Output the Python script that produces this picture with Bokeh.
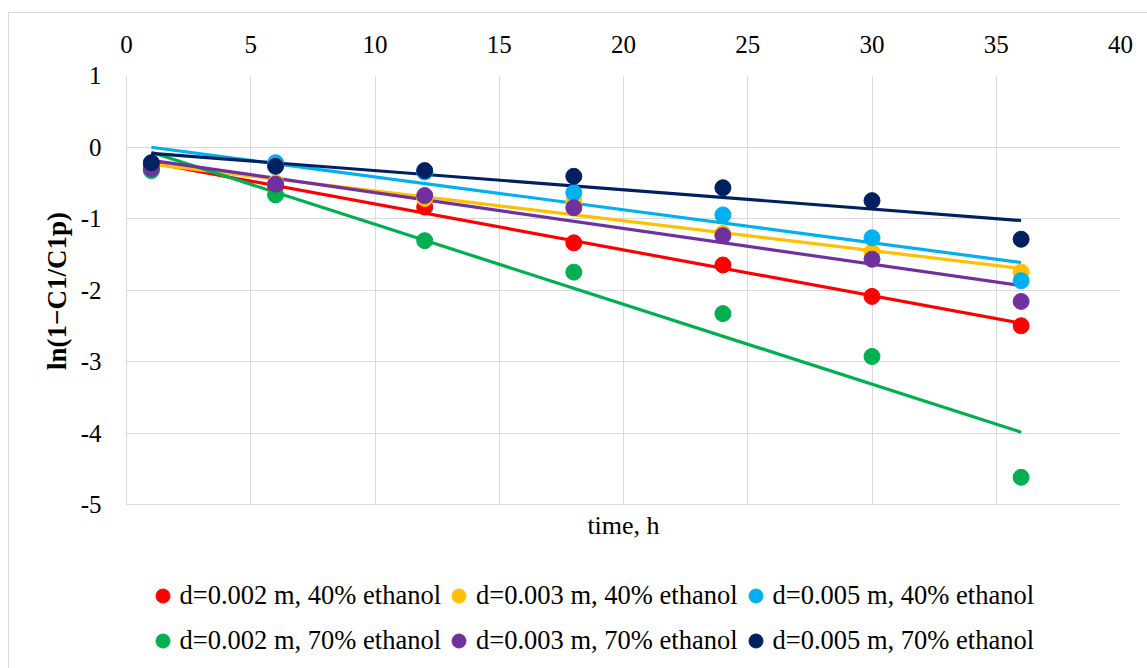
import numpy as np
from bokeh.plotting import figure
from bokeh.models import (Range1d, FixedTicker, Legend, LegendItem, Label,
                          BoxAnnotation, ColumnDataSource)
from bokeh.embed import file_html
from bokeh.resources import INLINE

# ---- data ----
time_h = [1, 6, 12, 18, 24, 30, 36]
d002_eth40 = [-0.27, -0.55, -0.84, -1.34, -1.65, -2.09, -2.50]
d003_eth40 = [-0.27, -0.50, -0.72, -0.76, -1.21, -1.47, -1.75]
d005_eth40 = [-0.25, -0.22, -0.35, -0.64, -0.95, -1.27, -1.87]
d002_eth70 = [-0.33, -0.67, -1.31, -1.75, -2.33, -2.93, -4.62]
d003_eth70 = [-0.30, -0.52, -0.68, -0.85, -1.24, -1.57, -2.16]
d005_eth70 = [-0.22, -0.27, -0.33, -0.41, -0.57, -0.75, -1.29]

series_names = ["d=0.002 m, 40% ethanol", "d=0.003 m, 40% ethanol", "d=0.005 m, 40% ethanol",
                "d=0.002 m, 70% ethanol", "d=0.003 m, 70% ethanol", "d=0.005 m, 70% ethanol"]
series_values = [d002_eth40, d003_eth40, d005_eth40, d002_eth70, d003_eth70, d005_eth70]
series_colors = ["#FF0000", "#FFC000", "#00B0F0", "#00B050", "#7030A0", "#002060"]

x_ticks = [0, 5, 10, 15, 20, 25, 30, 35, 40]
x_tick_labels = ["0", "5", "10", "15", "20", "25", "30", "35", "40"]
y_ticks = [-5, -4, -3, -2, -1, 0, 1]
y_tick_labels = ["-5", "-4", "-3", "-2", "-1", "0", "1"]

x_title = "time, h"
y_title = "ln(1\u2212C1/C1p)"

FONT = "Liberation Serif"
GRID = "#d9d9d9"

# ---- layout (pixels) ----
W, H = 1147, 668
PLOT_TOP, PLOT_BOTTOM = 75, 504          # pixel rows of y=1 and y=-5
Y_MIN, Y_MAX = min(y_ticks), max(y_ticks)
px_per_unit = (PLOT_BOTTOM - PLOT_TOP) / (Y_MAX - Y_MIN)
# the frame is extended down to the bottom of the page so that the legend and
# the x title (which sit under the plot area) are drawn inside it
y_lo = Y_MIN - (H - PLOT_BOTTOM) / px_per_unit

p = figure(width=W, height=H, output_backend="svg", toolbar_location=None,
           x_range=Range1d(min(x_ticks), max(x_ticks)), y_range=Range1d(y_lo, Y_MAX),
           x_axis_location="above",
           min_border_left=126, min_border_right=27, min_border_top=PLOT_TOP, min_border_bottom=0)
# outer chart-area border (top and left edges, offset like the reference)
p.styles = {"background-color": "white",
            "box-shadow": "inset 8px 12px 0 0 white, inset 9px 13px 0 0 #d9d9d9"}
p.background_fill_color = "white"
p.border_fill_alpha = 0
p.outline_line_color = None

# top x axis
xa = p.xaxis[0]
xa.ticker = FixedTicker(ticks=x_ticks)
xa.major_label_overrides = {t: s for t, s in zip(x_ticks, x_tick_labels)}
xa.major_tick_line_color = None
xa.minor_tick_line_color = None
xa.axis_line_color = None
xa.major_label_standoff = 17
xa.major_label_text_font = FONT
xa.major_label_text_font_size = "25px"
xa.major_label_text_color = "#000000"

# y axis; its title is centred on the whole (extended) frame, so leading
# no-break spaces move the visible words up to the middle of the plot area
shift_spaces = "\u00a0" * 24
ya = p.yaxis[0]
ya.ticker = FixedTicker(ticks=y_ticks)
ya.bounds = (Y_MIN, Y_MAX)
ya.major_label_overrides = {t: s for t, s in zip(y_ticks, y_tick_labels)}
ya.major_tick_line_color = None
ya.minor_tick_line_color = None
ya.axis_line_color = GRID
ya.major_label_standoff = 19
ya.major_label_text_font = FONT
ya.major_label_text_font_size = "25px"
ya.major_label_text_color = "#000000"
ya.axis_label = shift_spaces + y_title
ya.axis_label_text_font = FONT
ya.axis_label_text_font_size = "27px"
ya.axis_label_text_font_style = "bold"
ya.axis_label_text_color = "#000000"
ya.axis_label_standoff = 6

p.xgrid[0].ticker = FixedTicker(ticks=x_ticks)
p.ygrid[0].ticker = FixedTicker(ticks=y_ticks)
p.grid.grid_line_color = GRID
p.grid.grid_line_width = 1

# trend lines (least squares) then markers
renderers = []
for name, ys, col in zip(series_names, series_values, series_colors):
    slope, icpt = np.polyfit(time_h, ys, 1)
    xs_fit = [min(time_h), max(time_h)]
    ys_fit = [slope * xv + icpt for xv in xs_fit]
    p.line(xs_fit, ys_fit, line_color=col, line_width=3.2)

for name, ys, col in zip(series_names, series_values, series_colors):
    src = ColumnDataSource(dict(x=time_h, y=ys))
    r = p.scatter("x", "y", source=src, size=16, marker="circle",
                  fill_color=col, line_color=col)
    renderers.append(r)

# white cover for the area under the plot (hides grid lines there)
cover = BoxAnnotation(top=Y_MIN - 1.0 / px_per_unit, fill_color="white", fill_alpha=1.0,
                      line_color=None)
p.add_layout(cover)

# x axis title under the plot area
p.add_layout(Label(x=(min(x_ticks) + max(x_ticks)) / 2, y=Y_MIN - 21 / px_per_unit,
                   text=x_title, text_align="center", text_baseline="middle",
                   text_font=FONT, text_font_size="26px", text_color="#000000"))

legend = Legend(items=[LegendItem(label=n, renderers=[r]) for n, r in zip(series_names, renderers)],
                orientation="horizontal", ncols=3, location=(18.5, 5.5))
legend.label_text_font = FONT
legend.label_text_font_size = "26.5px"
legend.label_text_color = "#000000"
legend.glyph_width = 35
legend.glyph_height = 35
legend.label_height = 45
legend.label_standoff = 0
legend.spacing = 0
legend.padding = 0
legend.margin = 0
legend.border_line_color = None
legend.background_fill_alpha = 0
p.add_layout(legend)

open("out.html", "w").write(file_html(p, INLINE))
